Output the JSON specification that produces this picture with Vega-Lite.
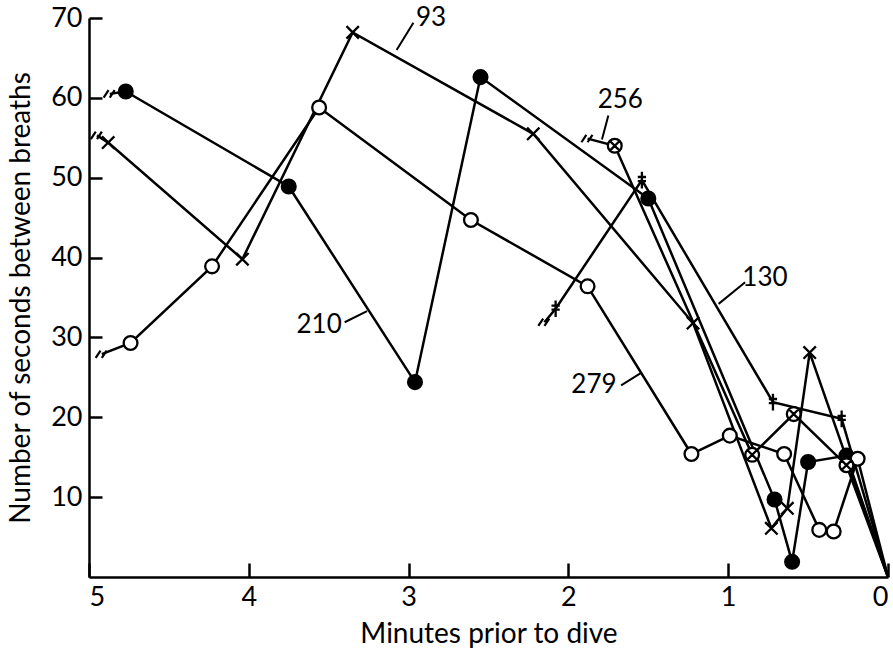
{
  "$schema": "https://vega.github.io/schema/vega-lite/v6.json",
  "width": 799,
  "height": 559,
  "autosize": {"type": "none"},
  "padding": {"left": 89, "top": 18, "right": 5, "bottom": 75},
  "background": "white",
  "config": {
    "view": {"stroke": null},
    "font": "Lato",
    "axis": {
      "grid": false,
      "domainColor": "black",
      "domainWidth": 2.5,
      "tickColor": "black",
      "tickWidth": 2.5,
      "labelColor": "black",
      "titleColor": "black",
      "labelFont": "Lato",
      "titleFont": "Lato",
      "labelFontSize": 27,
      "titleFontSize": 28,
      "titleFontWeight": "normal"
    }
  },
  "datasets": {
    "obs": [
      {"series": "93", "kind": "break", "t": 4.95, "v": 55.3},
      {"series": "93", "kind": "pt", "t": 4.88, "v": 54.4},
      {"series": "93", "kind": "pt", "t": 4.04, "v": 39.8},
      {"series": "93", "kind": "pt", "t": 3.35, "v": 68.2},
      {"series": "93", "kind": "pt", "t": 2.22, "v": 55.5},
      {"series": "93", "kind": "pt", "t": 1.22, "v": 31.8},
      {"series": "93", "kind": "pt", "t": 0.73, "v": 6.1},
      {"series": "93", "kind": "pt", "t": 0.63, "v": 8.6},
      {"series": "93", "kind": "pt", "t": 0.49, "v": 28.1},
      {"series": "93", "kind": "end", "t": 0.0, "v": 0.0},
      {"series": "210", "kind": "break", "t": 4.87, "v": 60.5},
      {"series": "210", "kind": "pt", "t": 4.77, "v": 60.8},
      {"series": "210", "kind": "pt", "t": 3.75, "v": 48.9},
      {"series": "210", "kind": "pt", "t": 2.96, "v": 24.4},
      {"series": "210", "kind": "pt", "t": 2.55, "v": 62.6},
      {"series": "210", "kind": "pt", "t": 1.50, "v": 47.4},
      {"series": "210", "kind": "pt", "t": 0.71, "v": 9.7},
      {"series": "210", "kind": "pt", "t": 0.60, "v": 1.9},
      {"series": "210", "kind": "pt", "t": 0.50, "v": 14.4},
      {"series": "210", "kind": "pt", "t": 0.26, "v": 15.2},
      {"series": "210", "kind": "end", "t": 0.0, "v": 0.0},
      {"series": "279", "kind": "break", "t": 4.92, "v": 27.9},
      {"series": "279", "kind": "pt", "t": 4.74, "v": 29.3},
      {"series": "279", "kind": "pt", "t": 4.23, "v": 38.9},
      {"series": "279", "kind": "pt", "t": 3.56, "v": 58.8},
      {"series": "279", "kind": "pt", "t": 2.61, "v": 44.7},
      {"series": "279", "kind": "pt", "t": 1.88, "v": 36.4},
      {"series": "279", "kind": "pt", "t": 1.23, "v": 15.4},
      {"series": "279", "kind": "pt", "t": 0.99, "v": 17.7},
      {"series": "279", "kind": "pt", "t": 0.65, "v": 15.4},
      {"series": "279", "kind": "pt", "t": 0.43, "v": 5.9},
      {"series": "279", "kind": "pt", "t": 0.34, "v": 5.7},
      {"series": "279", "kind": "pt", "t": 0.19, "v": 14.8},
      {"series": "279", "kind": "end", "t": 0.0, "v": 0.0},
      {"series": "256", "kind": "break", "t": 1.88, "v": 54.9},
      {"series": "256", "kind": "pt", "t": 1.71, "v": 54.0},
      {"series": "256", "kind": "pt", "t": 0.85, "v": 15.3},
      {"series": "256", "kind": "pt", "t": 0.59, "v": 20.4},
      {"series": "256", "kind": "pt", "t": 0.26, "v": 14.0},
      {"series": "256", "kind": "end", "t": 0.0, "v": 0.0},
      {"series": "130", "kind": "break", "t": 2.15, "v": 31.9},
      {"series": "130", "kind": "pt", "t": 2.08, "v": 33.6},
      {"series": "130", "kind": "pt", "t": 1.54, "v": 49.7},
      {"series": "130", "kind": "pt", "t": 0.72, "v": 21.9},
      {"series": "130", "kind": "pt", "t": 0.29, "v": 19.8},
      {"series": "130", "kind": "end", "t": 0.0, "v": 0.0}
    ],
    "labels": [
      {"label": "93", "t": 2.86, "v": 70.0, "t1": 2.97, "v1": 69.4, "t2": 3.075, "v2": 66.0},
      {"label": "256", "t": 1.675, "v": 59.7, "t1": 1.75, "v1": 57.8, "t2": 1.79, "v2": 54.8},
      {"label": "130", "t": 0.77, "v": 37.4, "t1": 0.894, "v1": 36.9, "t2": 1.06, "v2": 34.2},
      {"label": "210", "t": 3.56, "v": 31.5, "t1": 3.40, "v1": 31.9, "t2": 3.26, "v2": 33.3},
      {"label": "279", "t": 1.84, "v": 24.0, "t1": 1.67, "v1": 24.0, "t2": 1.55, "v2": 25.5}
    ]
  },
  "layer": [
    {
      "data": {"name": "obs"},
      "mark": {"type": "line", "color": "black", "strokeWidth": 2.5},
      "encoding": {
        "x": {
          "field": "t", "type": "quantitative",
          "scale": {"domain": [0, 5], "reverse": true, "nice": false, "zero": false},
          "axis": {
            "values": [0, 1, 2, 3, 4, 5], "format": "d", "tickSize": -14,
            "labelPadding": 21, "title": "Minutes prior to dive", "titlePadding": 10
          }
        },
        "y": {
          "field": "v", "type": "quantitative",
          "scale": {"domain": [0, 70], "nice": false},
          "axis": {
            "values": [10, 20, 30, 40, 50, 60, 70], "format": "d", "tickSize": -13,
            "labelPadding": 20, "title": "Number of seconds between breaths", "titlePadding": 15
          }
        },
        "detail": {"field": "series"}
      }
    },
    {
      "data": {"name": "obs"},
      "transform": [{"filter": "datum.kind == 'pt'"}],
      "mark": {"type": "point", "filled": true, "stroke": "black", "strokeWidth": 2.3, "opacity": 1, "size": 190},
      "encoding": {
        "x": {"field": "t", "type": "quantitative"},
        "y": {"field": "v", "type": "quantitative"},
        "shape": {
          "field": "series", "type": "nominal", "legend": null,
          "scale": {
            "domain": ["93", "210", "279", "256", "130"],
            "range": [
              "M-0.9,-0.9L0.9,0.9M-0.9,0.9L0.9,-0.9",
              "circle",
              "circle",
              "M1,0A1,1,0,1,1,-1,0A1,1,0,1,1,1,0ZM-0.7,-0.7L0.7,0.7M-0.7,0.7L0.7,-0.7",
              "M0,-1.2L0,1.2M-0.6,-0.45L0.6,-0.45M-0.6,0.15L0.6,0.15"
            ]
          }
        },
        "fill": {
          "field": "series", "type": "nominal", "legend": null,
          "scale": {"domain": ["93", "210", "279", "256", "130"], "range": ["white", "black", "white", "white", "white"]}
        }
      }
    },
    {
      "data": {"name": "obs"},
      "transform": [{"filter": "datum.kind == 'break'"}],
      "mark": {"type": "point", "filled": false, "color": "black", "strokeWidth": 2.2, "opacity": 1, "size": 150,
               "shape": "M-1,0.6L-0.2,-0.6M0,0.6L0.8,-0.6"},
      "encoding": {
        "x": {"field": "t", "type": "quantitative"},
        "y": {"field": "v", "type": "quantitative"}
      }
    },
    {
      "data": {"name": "labels"},
      "mark": {"type": "rule", "color": "black", "strokeWidth": 2},
      "encoding": {
        "x": {"field": "t1", "type": "quantitative"},
        "y": {"field": "v1", "type": "quantitative"},
        "x2": {"field": "t2"},
        "y2": {"field": "v2"}
      }
    },
    {
      "data": {"name": "labels"},
      "mark": {"type": "text", "font": "Lato", "fontSize": 26, "color": "black", "align": "center", "baseline": "middle"},
      "encoding": {
        "x": {"field": "t", "type": "quantitative"},
        "y": {"field": "v", "type": "quantitative"},
        "text": {"field": "label"}
      }
    }
  ]
}
